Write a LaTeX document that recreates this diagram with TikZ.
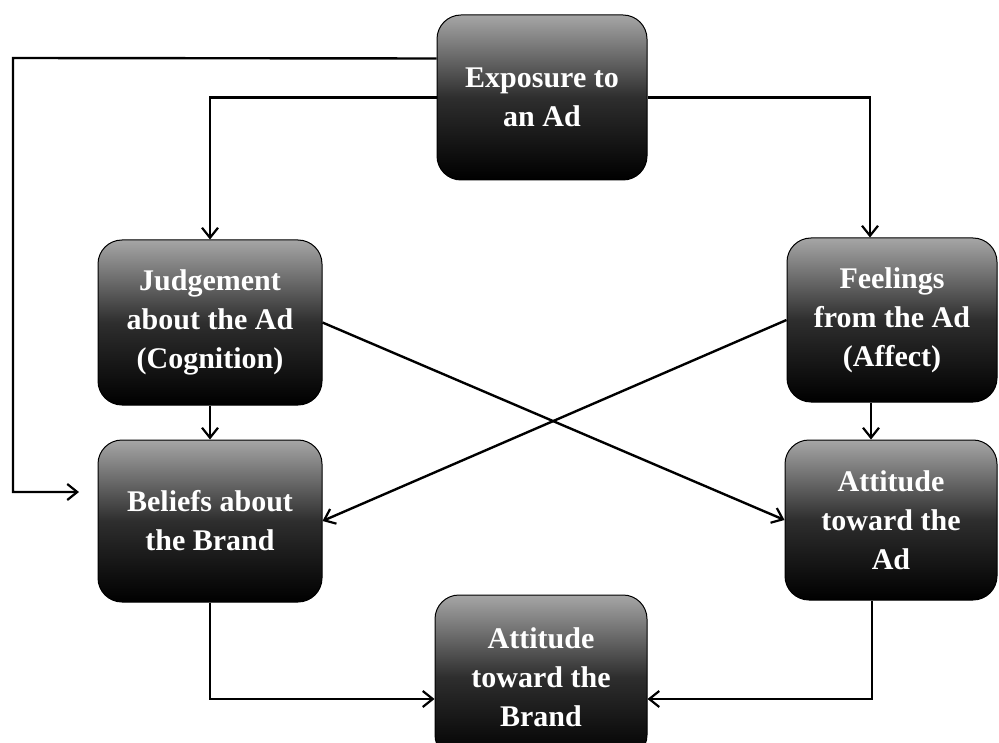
\documentclass[tikz,border=0pt]{standalone}
\usepackage{fontspec}
\setmainfont{Liberation Serif}
\usetikzlibrary{arrows.meta}
\begin{document}
\begin{tikzpicture}[x=1pt,y=-1pt,
  box/.style={rounded corners=24pt, top color=black!35, bottom color=black, middle color=black!82,
    draw=black, line width=1pt, text=white, font=\fontsize{30}{39}\selectfont\bfseries,
    align=center, inner sep=0pt},
  conn/.style={line width=2.4pt, -{Straight Barb[length=10pt,width=16pt,line width=2.2pt]}}]
\useasboundingbox (0,0) rectangle (999,743);
\fill[white] (0,0) rectangle (999,743);

\node[box, minimum width=210pt, minimum height=165pt] (exp) at (542,97.5) {Exposure to\\an Ad};
\node[box, minimum width=224pt, minimum height=165pt] (judg) at (210,322.5) {Judgement\\about the Ad\\(Cognition)};
\node[box, minimum width=210pt, minimum height=164pt] (feel) at (892,320) {Feelings\\from the Ad\\(Affect)};
\node[box, minimum width=224pt, minimum height=162pt] (bel) at (210,521) {Beliefs about\\the Brand};
\node[box, minimum width=212pt, minimum height=160pt] (attad) at (891,520) {Attitude\\toward the\\Ad};
\node[box, minimum width=212pt, minimum height=164pt] (attbr) at (541,677) {Attitude\\toward the\\Brand};

\coordinate (outA) at (13,58);
\coordinate (outB) at (13,492);
\coordinate (outEnd) at (79,492);

% from exposure
\draw[conn] ([yshift=39pt]exp.west) -- (outA) -- (outB) -- (outEnd);
\draw[conn] (exp.west) -| (judg.north);
\draw[conn] (exp.east) -| ([xshift=-22pt]feel.north);

% vertical links
\draw[conn] (judg.south) -- (bel.north);
\draw[conn] ([xshift=-21pt]feel.south) -- ([xshift=-20pt]attad.north);

% crosses
\draw[conn] (judg.east) -- (attad.west);
\draw[conn] (feel.west) -- (bel.east);

% to attitude toward brand
\draw[conn] (bel.south) |- ([yshift=-22pt]attbr.west);
\draw[conn] ([xshift=-19pt]attad.south) |- ([yshift=-22pt]attbr.east);
\end{tikzpicture}
\end{document}
